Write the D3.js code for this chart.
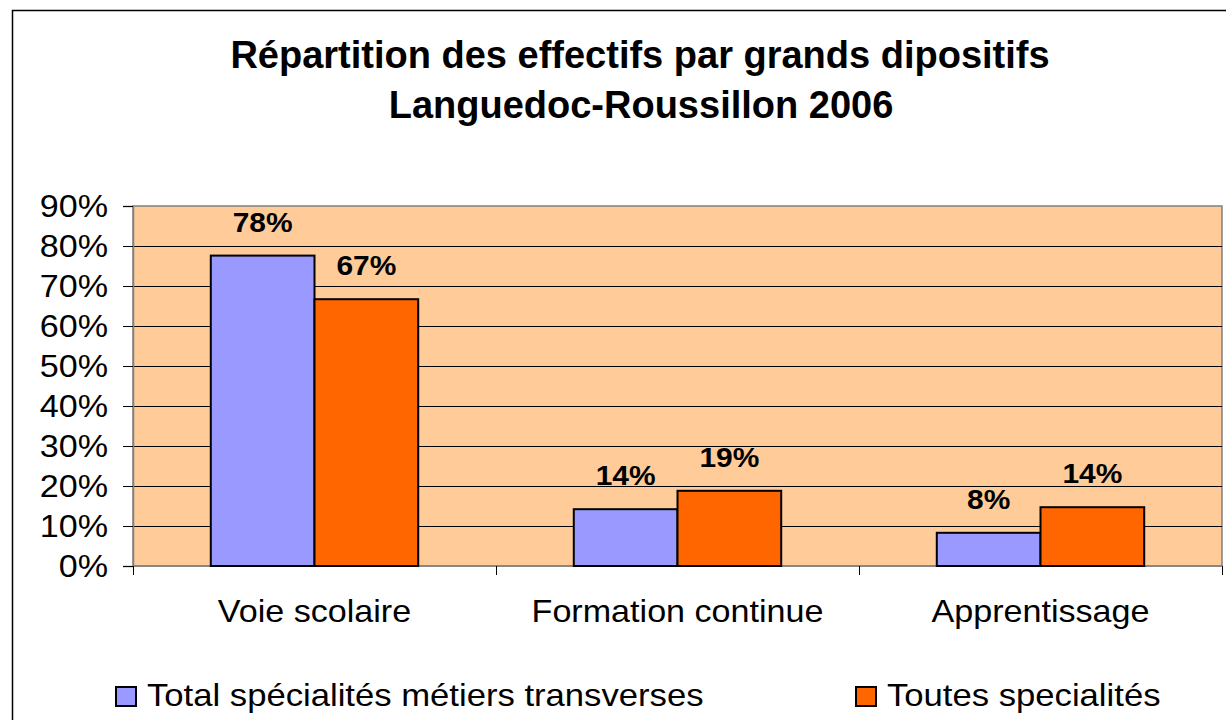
<!DOCTYPE html>
<html>
<head>
<meta charset="utf-8">
<script src="https://cdn.jsdelivr.net/npm/d3@7"></script>
<style>
  body { margin: 0; background: #fff; }
  svg { font-family: "Liberation Sans", Arial, sans-serif; }
</style>
</head>
<body>
<svg id="chart" width="1226" height="720"></svg>
<script>
var categories = ["Voie scolaire", "Formation continue", "Apprentissage"];
var seriesNames = ["Total spécialités métiers transverses", "Toutes specialités"];
var transverses = [0.776, 0.142, 0.083];
var toutes = [0.667, 0.188, 0.147];
var transversesLabels = ["78%", "14%", "8%"];
var toutesLabels = ["67%", "19%", "14%"];
var yTicks = [0, 0.1, 0.2, 0.3, 0.4, 0.5, 0.6, 0.7, 0.8, 0.9];

(function(){
  var svg = d3.select("#chart");
  var colors = ["#9999FF", "#FF6600"];
  var plotLeft = 133, plotRight = 1222, plotTop = 206, plotBottom = 566;
  var stretch = 1.1;

  // text with a little horizontal stretch, like the original export
  function label(parent, x, y, str, size, anchor, bold, sx){
    var g = parent.append("g")
        .attr("transform", "translate(" + x + "," + y + ") scale(" + (sx || stretch) + ",1)");
    g.append("text")
        .attr("text-anchor", anchor)
        .attr("font-size", size)
        .attr("font-weight", bold ? "bold" : "normal")
        .attr("fill", "#000")
        .text(str);
    return g;
  }

  // outer chart border
  svg.append("path")
      .attr("d", "M12.5,720 L12.5,10.5 L1226,10.5")
      .attr("fill", "none")
      .attr("stroke", "#000")
      .attr("stroke-width", 1.5);

  // title
  label(svg, 640, 68, "Répartition des effectifs par grands dipositifs", 38, "middle", true, 1.0);
  label(svg, 641, 118, "Languedoc-Roussillon 2006", 38, "middle", true, 1.0);

  var x = d3.scaleBand().domain(categories).range([plotLeft, plotRight]);
  // gap width 150% of a bar: each bar = band / 3.5
  var barW = x.bandwidth() / 3.5;
  var y = d3.scaleLinear().domain([0, 0.9]).range([plotBottom, plotTop]);

  // plot background
  svg.append("rect")
      .attr("x", plotLeft).attr("y", plotTop)
      .attr("width", plotRight - plotLeft).attr("height", plotBottom - plotTop)
      .attr("fill", "#FFCC99")
      .attr("stroke", "#808080")
      .attr("stroke-width", 1.5);

  // gridlines
  svg.append("g")
      .selectAll("line")
      .data(yTicks.slice(1, -1))
      .join("line")
      .attr("x1", plotLeft).attr("x2", plotRight)
      .attr("y1", function(d){ return Math.round(y(d)) + 0.5; })
      .attr("y2", function(d){ return Math.round(y(d)) + 0.5; })
      .attr("stroke", "#000")
      .attr("stroke-width", 1);

  // y axis
  var yAxis = svg.append("g")
      .attr("transform", "translate(" + plotLeft + ",0)")
      .call(d3.axisLeft(y).tickValues(yTicks).tickFormat("").tickSize(10));
  yAxis.select(".domain").attr("stroke", "#808080").attr("stroke-width", 1.5);
  yAxis.selectAll(".tick line").attr("stroke", "#000");
  var fmt = d3.format(".0%");
  yTicks.forEach(function(t){
    label(svg, 108, y(t) + 11, fmt(t), 31, "end", false);
  });

  // x axis
  var xAxis = svg.append("g")
      .attr("transform", "translate(0," + plotBottom + ")");
  xAxis.append("line")
      .attr("x1", plotLeft).attr("x2", plotRight)
      .attr("stroke", "#808080").attr("stroke-width", 1.5);
  xAxis.selectAll(".sep")
      .data(d3.range(categories.length + 1))
      .join("line")
      .attr("class", "sep")
      .attr("x1", function(i){ return plotLeft + i * x.bandwidth() + 0.5; })
      .attr("x2", function(i){ return plotLeft + i * x.bandwidth() + 0.5; })
      .attr("y1", 0).attr("y2", 9)
      .attr("stroke", "#000");
  categories.forEach(function(c){
    label(svg, x(c) + x.bandwidth() / 2, 622, c, 31, "middle", false);
  });

  // bars
  var series = [transverses, toutes];
  var seriesLabels = [transversesLabels, toutesLabels];
  series.forEach(function(values, s){
    var g = svg.append("g");
    g.selectAll("rect")
        .data(values)
        .join("rect")
        .attr("x", function(d, i){ return x(categories[i]) + barW * 0.75 + s * barW; })
        .attr("y", function(d){ return y(d); })
        .attr("width", barW)
        .attr("height", function(d){ return y(0) - y(d); })
        .attr("fill", colors[s])
        .attr("stroke", "#000")
        .attr("stroke-width", 2);
    values.forEach(function(d, i){
      label(g, x(categories[i]) + barW * 0.75 + s * barW + barW / 2, y(d) - 24,
            seriesLabels[s][i], 28, "middle", true, 1.07);
    });
  });

  // legend
  var legendX = [116, 856];
  var legend = svg.append("g");
  seriesNames.forEach(function(name, s){
    legend.append("rect")
        .attr("x", legendX[s]).attr("y", 687)
        .attr("width", 20).attr("height", 19)
        .attr("fill", colors[s])
        .attr("stroke", "#000")
        .attr("stroke-width", 2);
    label(legend, legendX[s] + 31, 706, name, 31.5, "start", false);
  });
})();
</script>
</body>
</html>
